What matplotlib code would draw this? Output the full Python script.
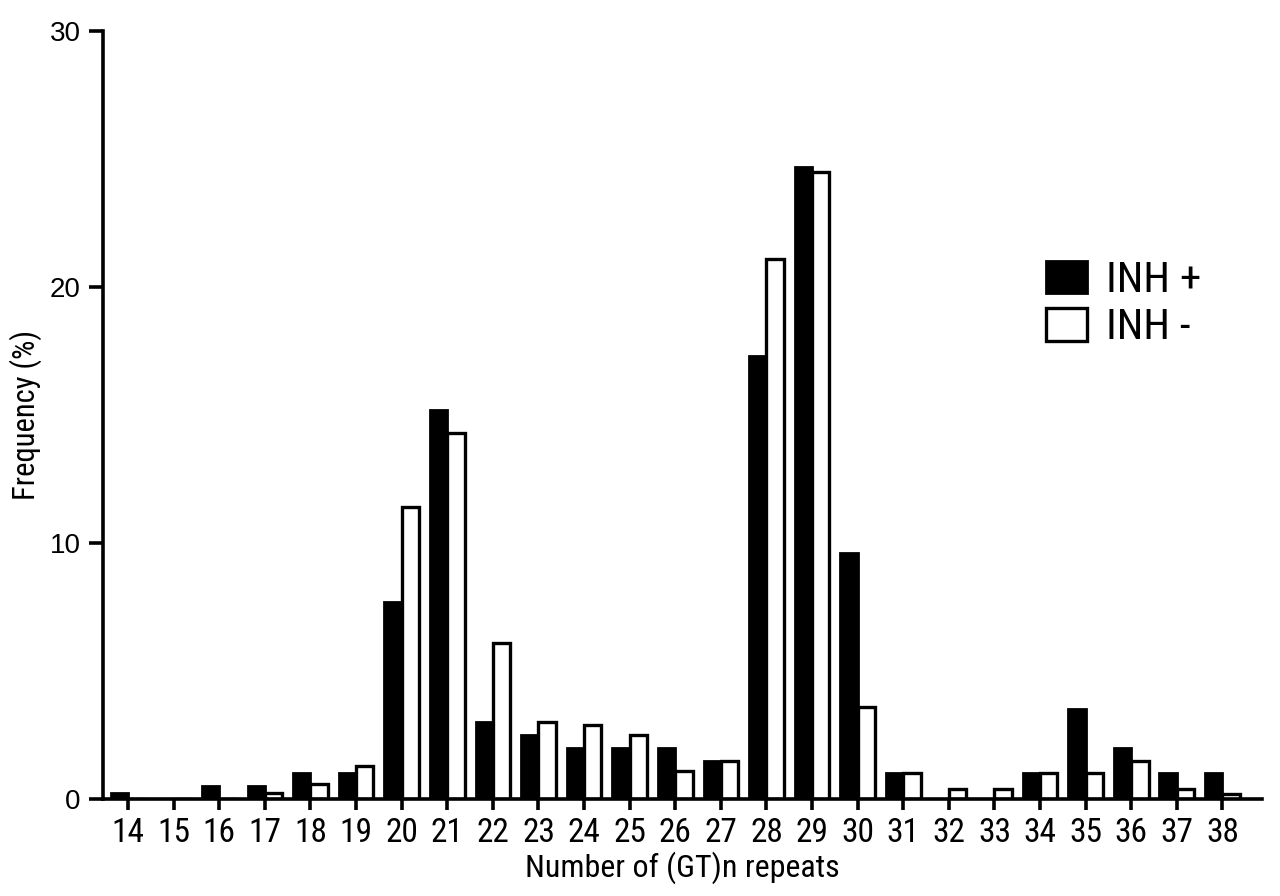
import matplotlib
matplotlib.use("Agg")
import matplotlib.pyplot as plt
import numpy as np

# (GT)n repeat counts and frequencies (%)
repeats = [14, 15, 16, 17, 18, 19, 20, 21, 22, 23, 24, 25, 26,
           27, 28, 29, 30, 31, 32, 33, 34, 35, 36, 37, 38]
inh_pos = [0.25, 0, 0.5, 0.5, 1.0, 1.0, 7.7, 15.2, 3.0, 2.5, 2.0, 2.0, 2.0,
           1.5, 17.3, 24.7, 9.6, 1.0, 0, 0, 1.0, 3.5, 2.0, 1.0, 1.0]
inh_neg = [0, 0, 0, 0.25, 0.6, 1.3, 11.4, 14.3, 6.1, 3.0, 2.9, 2.5, 1.1,
           1.5, 21.1, 24.5, 3.6, 1.0, 0.4, 0.4, 1.0, 1.0, 1.5, 0.4, 0.2]

plt.rcParams['font.family'] = ['Roboto Condensed', 'DejaVu Sans']

fig = plt.figure(figsize=(12.8, 8.96), dpi=100)
ax = fig.add_axes([0.0805, 0.1083, 0.9055, 0.857])

x = np.arange(len(repeats))
w = 0.38
ax.bar(x - w / 2, inh_pos, width=w, color='black', edgecolor='black',
       linewidth=2, label='INH +')
ax.bar(x + w / 2, inh_neg, width=w, color='white', edgecolor='black',
       linewidth=2.4, label='INH -')

ax.set_xlim(-0.55, len(repeats) - 0.13)
ax.set_ylim(0, 30)
ax.set_yticks([0, 10, 20, 30])
ax.set_yticklabels(['0', '10', '20', '30'], family='Liberation Sans', fontsize=20)
ax.set_xticks(x)
ax.set_xticklabels([str(r) for r in repeats], fontsize=24)

for s in ['top', 'right']:
    ax.spines[s].set_visible(False)
for s in ['left', 'bottom']:
    ax.spines[s].set_linewidth(2.6)
ax.spines['bottom'].set_zorder(3)
ax.tick_params(axis='both', direction='out', width=2.6, length=8, pad=5)
ax.tick_params(axis='y', length=10, pad=6)

ax.set_xlabel('Number of (GT)n repeats', fontsize=23, labelpad=2)
ax.set_ylabel('Frequency (%)', fontsize=22)
ax.yaxis.set_label_coords(-0.053, 0.5)

ax.legend(loc='upper left', bbox_to_anchor=(0.795, 0.73), frameon=False,
          fontsize=31, handlelength=0.95, handleheight=0.8,
          handletextpad=0.45, labelspacing=0.15, borderpad=0)

fig.savefig('out.png', dpi=100)
